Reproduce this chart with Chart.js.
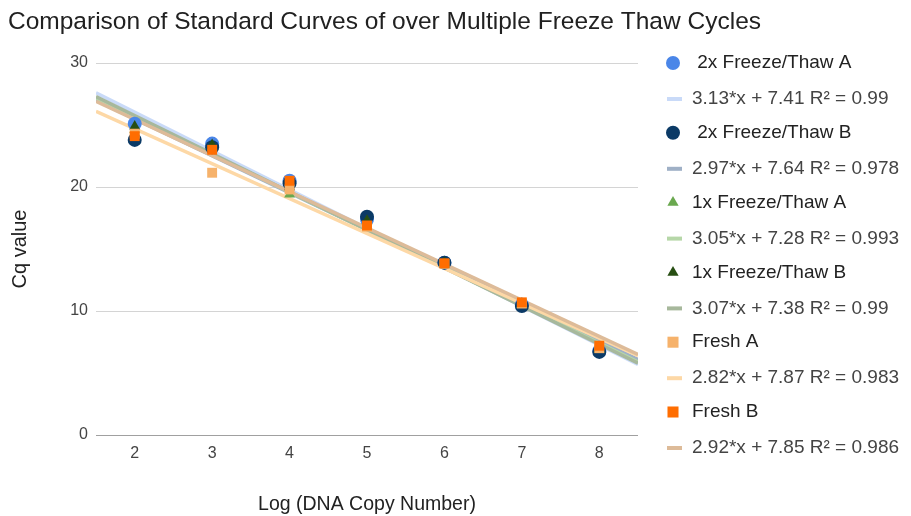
<!DOCTYPE html>
<html>
<head>
<meta charset="utf-8">
<script src="https://cdn.jsdelivr.net/npm/chart.js@4.4.1/dist/chart.umd.min.js"></script>
<style>
    body { margin: 0; background: #fff; }
    #wrap { width: 911px; height: 516px; }
</style>
</head>
<body>
<div id="wrap"><canvas id="chart" width="911" height="516"></canvas></div>
<script>
// values
const xValues = [2, 3, 4, 5, 6, 7, 8];
const xTicks = [2, 3, 4, 5, 6, 7, 8];
const yTicks = [0, 10, 20, 30];
const trendX = [1.5, 8.5];

const seriesNames = [' 2x Freeze/Thaw A', ' 2x Freeze/Thaw B', '1x Freeze/Thaw A', '1x Freeze/Thaw B', 'Fresh A', 'Fresh B'];
const trendNames = [
    '3.13*x + 7.41 R\u00b2 = 0.99',
    '2.97*x + 7.64 R\u00b2 = 0.978',
    '3.05*x + 7.28 R\u00b2 = 0.993',
    '3.07*x + 7.38 R\u00b2 = 0.99',
    '2.82*x + 7.87 R\u00b2 = 0.983',
    '2.92*x + 7.85 R\u00b2 = 0.986'
];

const ft2A = [25.1, 23.5, 20.5, 17.4, 13.9, 10.5, 6.8];
const ft2B = [23.8, 23.2, 20.3, 17.6, 13.9, 10.4, 6.7];
const ft1A = [24.6, 23.2, 19.4, 17.2, 13.8, 10.5, 6.9];
const ft1B = [24.9, 23.4, 20.0, 17.3, 13.9, 10.6, 6.9];
const freshA = [24.3, 21.15, 19.8, 16.8, 13.8, 10.6, 7.0];
const freshB = [24.1, 23.0, 20.5, 16.9, 13.85, 10.7, 7.2];

// trendline ends at x = 1.5 and x = 8.5
const ft2ATrend = [27.6, 5.7];
const ft2BTrend = [27.0, 6.1];
const ft1ATrend = [27.2, 5.9];
const ft1BTrend = [27.3, 5.8];
const freshATrend = [26.1, 6.4];
const freshBTrend = [26.9, 6.5];

const seriesValues = [ft2A, ft2B, ft1A, ft1B, freshA, freshB];
const trendValues = [ft2ATrend, ft2BTrend, ft1ATrend, ft1BTrend, freshATrend, freshBTrend];

const pointColors = ['#4a86e8', '#0b3a66', '#6aa84f', '#274e13', '#f6b26b', '#ff6d01'];
const trendColors = ['#c9daf8', '#9fb0c6', '#b6d7a8', '#a7b89c', '#fdd8a6', '#ddbb99'];
const pointStyles = ['circle', 'circle', 'triangle', 'triangle', 'rect', 'rect'];
const pointSizes = [7, 7, 6.3, 6.3, 7, 7];
const legendSizes = [7, 7, 6.5, 6.5, 7.8, 7.8];

const FONT = '"Liberation Sans", Arial, sans-serif';

const datasets = [];
seriesValues.forEach((vals, i) => {
    datasets.push({
        label: seriesNames[i],
        data: xValues.map((x, j) => ({ x: x, y: vals[j] })),
        backgroundColor: pointColors[i],
        borderColor: pointColors[i],
        borderWidth: 0,
        pointStyle: pointStyles[i],
        pointRadius: pointSizes[i],
        showLine: false,
        order: 6 - i
    });
});
trendValues.forEach((vals, i) => {
    datasets.push({
        label: trendNames[i],
        data: trendX.map((x, j) => ({ x: x, y: vals[j] })),
        borderColor: trendColors[i],
        backgroundColor: trendColors[i],
        borderWidth: 3.5,
        pointRadius: 0,
        showLine: true,
        order: 20 - i
    });
});

// legend on the right, drawn by hand so the rows line up with the picture
const sideLegend = {
    id: 'sideLegend',
    afterDraw(chart) {
        const ctx = chart.ctx;
        ctx.save();
        ctx.font = '19px ' + FONT;
        ctx.textBaseline = 'middle';
        ctx.textAlign = 'left';
        for (let i = 0; i < seriesNames.length; i++) {
            const y1 = 63 + i * 69.8;
            const y2 = y1 + 36;
            ctx.fillStyle = pointColors[i];
            ctx.strokeStyle = pointColors[i];
            Chart.helpers.drawPoint(ctx, {
                pointStyle: pointStyles[i],
                radius: legendSizes[i],
                rotation: 0,
                borderWidth: 0
            }, 673, y1);
            ctx.fillStyle = '#222';
            ctx.fillText(seriesNames[i], 692, y1);

            ctx.fillStyle = trendColors[i];
            ctx.fillRect(667, y2 - 2, 15, 4);
            ctx.fillStyle = '#444';
            ctx.fillText(trendNames[i], 692, y2);
        }
        ctx.restore();
    }
};

const ctx = document.getElementById('chart').getContext('2d');
new Chart(ctx, {
    type: 'scatter',
    data: { datasets: datasets },
    options: {
        responsive: false,
        animation: false,
        layout: { padding: { left: 8, right: 0, top: 0, bottom: 0 } },
        plugins: {
            legend: { display: false },
            tooltip: { enabled: false },
            title: {
                display: true,
                text: 'Comparison of Standard Curves of over Multiple Freeze Thaw Cycles',
                align: 'start',
                color: '#212121',
                font: { family: FONT, size: 24.5, weight: 'normal' },
                padding: { top: 8, bottom: 25.6 }
            }
        },
        scales: {
            x: {
                type: 'linear',
                min: 1.5,
                max: 8.5,
                afterBuildTicks: s => { s.ticks = xTicks.map(v => ({ value: v })); },
                afterFit: s => { s.height = 81; },
                grid: { display: false, drawTicks: false },
                border: { display: false },
                ticks: { color: '#444', font: { family: FONT, size: 16 }, padding: 9 },
                title: {
                    display: true,
                    text: 'Log (DNA Copy Number)',
                    color: '#222',
                    font: { family: FONT, size: 19.5 },
                    padding: { top: 0, bottom: 0 }
                }
            },
            y: {
                min: 0,
                max: 30,
                afterBuildTicks: s => { s.ticks = yTicks.map(v => ({ value: v })); },
                afterFit: s => { s.width = 88; },
                grid: {
                    color: c => (c.tick && c.tick.value === 0 ? '#a0a0a0' : '#d4d4d4'),
                    drawTicks: false
                },
                border: { display: false },
                ticks: { color: '#444', font: { family: FONT, size: 16 }, padding: 8 },
                title: {
                    display: true,
                    text: 'Cq value',
                    color: '#222',
                    font: { family: FONT, size: 20 },
                    padding: { top: 0, bottom: 0 }
                }
            },
            // empty axis on the right that keeps room for the legend
            legendSpace: {
                position: 'right',
                min: 0,
                max: 30,
                afterFit: s => { s.width = 273; },
                grid: { display: false, drawTicks: false },
                border: { display: false },
                ticks: { display: false }
            }
        }
    },
    plugins: [sideLegend]
});
</script>
</body>
</html>
